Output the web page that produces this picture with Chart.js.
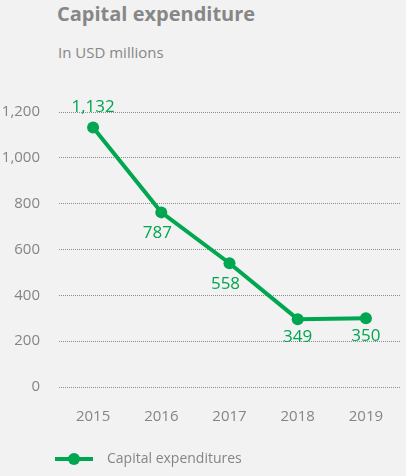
<!DOCTYPE html>
<html>
<head>
<meta charset="utf-8">
<script src="https://cdn.jsdelivr.net/npm/chart.js@4/dist/chart.umd.min.js"></script>
<style>
  html, body { margin: 0; padding: 0; background: #f2f2f2; }
  #wrap { position: relative; width: 406px; height: 476px; font-family: 'Open Sans', sans-serif; }
  #title { position: absolute; left: 57px; top: 0px; font-size: 20px; font-weight: bold; color: #878787; }
  #sub { position: absolute; left: 58px; top: 42px; font-size: 15px; color: #878787; }
  canvas { position: absolute; left: 0; top: 0; }
</style>
</head>
<body>
<div id="wrap">
  <div id="title">Capital expenditure</div>
  <div id="sub">In USD millions</div>
  <canvas id="chart" width="406" height="476"></canvas>
</div>
<script>
const years = ['2015', '2016', '2017', '2018', '2019'];
// heights of the marks as drawn in the picture
const capex = [1132, 762, 540, 296, 300];
// value labels printed next to the points
const capexLabels = ['1,132', '787', '558', '349', '350'];
const labelPlacement = ['above', 'belowLeft', 'belowLeft', 'below', 'below'];
const seriesName = 'Capital expenditures';

const green = '#00a650';
const grey = '#858585';

// value labels next to each point
const valueLabels = {
  id: 'valueLabels',
  afterDatasetsDraw(chart) {
    const ctx = chart.ctx;
    const meta = chart.getDatasetMeta(0);
    ctx.save();
    ctx.font = '17px "Open Sans"';
    ctx.fillStyle = green;
    ctx.textAlign = 'center';
    ctx.textBaseline = 'middle';
    meta.data.forEach((pt, i) => {
      let dx = 0, dy = 18;
      if (labelPlacement[i] === 'above') dy = -20;
      if (labelPlacement[i] === 'belowLeft') { dx = -4; dy = 21; }
      ctx.fillText(capexLabels[i], pt.x + dx, pt.y + dy);
    });
    ctx.restore();
  }
};

// legend drawn under the axis, lined up with the plot area
const lineLegend = {
  id: 'lineLegend',
  afterDraw(chart) {
    const ctx = chart.ctx;
    const x = chart.chartArea.left - 4;
    const y = 459;
    ctx.save();
    ctx.strokeStyle = green;
    ctx.lineWidth = 4;
    ctx.beginPath();
    ctx.moveTo(x, y);
    ctx.lineTo(x + 38, y);
    ctx.stroke();
    ctx.fillStyle = green;
    ctx.beginPath();
    ctx.arc(x + 19, y, 6, 0, Math.PI * 2);
    ctx.fill();
    ctx.font = '14px "Open Sans"';
    ctx.fillStyle = grey;
    ctx.textBaseline = 'middle';
    ctx.fillText(seriesName, x + 52, y);
    ctx.restore();
  }
};

new Chart(document.getElementById('chart'), {
  type: 'line',
  data: {
    labels: years,
    datasets: [{
      label: seriesName,
      data: capex,
      borderColor: green,
      backgroundColor: green,
      borderWidth: 4,
      pointRadius: 6,
      pointHoverRadius: 6,
      pointBackgroundColor: green,
      pointBorderWidth: 0,
      tension: 0,
    }],
  },
  options: {
    responsive: false,
    animation: false,
    layout: { padding: { top: 112, bottom: 29, left: 0, right: 0 } },
    plugins: {
      legend: { display: false },
      tooltip: { enabled: false },
    },
    scales: {
      x: {
        offset: true,
        grid: { display: false, drawTicks: false },
        border: { display: false },
        ticks: { color: grey, padding: 21, font: { family: 'Open Sans', size: 15 } },
      },
      y: {
        min: 0,
        max: 1200,
        afterFit: (scale) => { scale.width = 59; },
        grid: { color: '#8c8c8c', drawTicks: false, lineWidth: 1 },
        border: { display: false, dash: [1, 1] },
        ticks: {
          stepSize: 200,
          color: grey,
          padding: 19,
          font: { family: 'Open Sans', size: 15 },
          callback: (v) => v.toLocaleString('en-US'),
        },
      },
    },
  },
  plugins: [valueLabels, lineLegend],
});
</script>
</body>
</html>
